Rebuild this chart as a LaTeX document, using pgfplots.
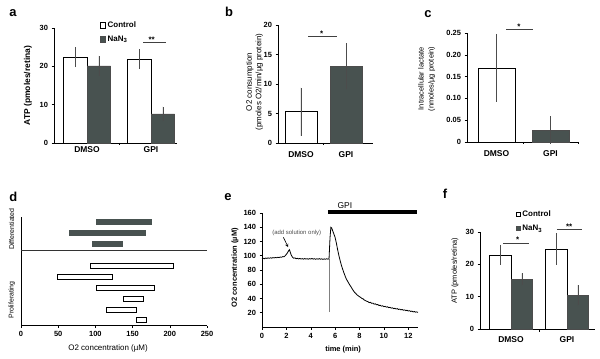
\documentclass[border=0pt]{standalone}
\usepackage{pgfplots}
\pgfplotsset{compat=1.18}
\usepackage{fontspec}
\setmainfont{Liberation Sans}
\definecolor{dk}{RGB}{72,82,80}
\newcommand\tk{\fontsize{7.5}{8}\selectfont\bfseries}
\newcommand\cat{\fontsize{8.5}{9}\selectfont\bfseries}
\newcommand\lgf{\fontsize{8}{9}\selectfont\bfseries}
\newcommand\lbl{\fontsize{8}{9.5}\selectfont}
\newcommand\pl{\fontsize{13}{14}\selectfont\bfseries}
\newcommand\sg{\fontsize{8}{9}\selectfont\bfseries}
\tikzset{sig/.style={line width=0.9bp, black!75}}
\pgfplotsset{
 base/.style={scale only axis, clip=false, axis x line=bottom, axis y line=left,
   axis line style={-, line width=0.5bp, black}, every tick/.style={black, line width=0.5bp},
   tick align=outside, major tick length=2.5bp, ticklabel style={font=\tk},
   /pgf/number format/assume math mode=true, anchor=south west},
 cats/.style={xtick={1,2}, xticklabels={DMSO,GPI}, x tick style={draw=none}, xticklabel style={font=\cat}},
 wbar/.style={fill=white, draw=black, line width=0.6bp},
 dbar/.style={fill=dk, draw=black!70, line width=0.6bp},
 eb/.style={error bars/.cd, y dir=both, y explicit, error mark=none, error bar style={line width=0.5bp, gray!60!black}},
 sqleg/.style={legend cell align=left, legend image code/.code={\draw[##1] (0bp,-2.7bp) rectangle (5.4bp,2.7bp);}},
}
\begin{document}
\begin{tikzpicture}
\path[use as bounding box] (0bp,0bp) rectangle (600bp,359bp);
% ---------------- a
\begin{axis}[base, cats, at={(54bp,216bp)}, width=123bp, height=115bp,
  xmin=0.484, xmax=2.406, ymin=0, ymax=30, ytick={0,10,20,30}, ybar, bar width=23.5bp,
  ylabel={ATP (pmoles/retina)}, ylabel style={font=\fontsize{8.5}{9}\selectfont\bfseries, at={(axis description cs:-0.211,0.5)}, anchor=center},
  xticklabel style={yshift=2bp},
  sqleg, legend style={draw=none, fill=none, at={(axis description cs:0.37,1.075)}, anchor=north west, inner sep=0pt, font=\lgf, row sep=3bp}]
\addplot[wbar, bar shift=-11.75bp, eb] coordinates {(1,22.4) +- (0,2.6) (2,21.9) +- (0,2.5)};
\addlegendentry{Control}
\addplot[dbar, bar shift=11.75bp, eb] coordinates {(1,20.1) +- (0,2.6) (2,7.6) +- (0,1.9)};
\addlegendentry{NaN\textsubscript{3}}
\draw[line width=0.5bp] (axis cs:1.5,0) -- ++(0bp,-2.5bp);
\draw[sig] (axis cs:1.875,26.2) -- (axis cs:2.234,26.2);
\node[font=\sg, anchor=base, inner sep=0pt] at (axis cs:2.01,26.2) {**};
\end{axis}
% ---------------- b
\begin{axis}[base, cats, at={(278bp,216bp)}, width=95bp, height=118bp,
  xmin=0.489, xmax=2.6, ymin=0, ymax=20, ytick={0,5,10,15,20}, ybar, bar width=32bp,
  ylabel={O2 consumption\\(pmoles O2/min/µg protein)},
  ylabel style={font=\lbl, align=center, at={(axis description cs:-0.247,0.517)}, anchor=center},
  xticklabel style={yshift=-3bp}]
\addplot[wbar, bar shift=0bp, eb] coordinates {(1,5.3) +- (0,4.1)};
\addplot[dbar, bar shift=0bp, eb] coordinates {(2,13.0) +- (0,3.9)};
\draw[line width=0.5bp] (axis cs:1.5,0) -- ++(0bp,-2.5bp);
\draw[sig] (axis cs:1.156,18.0) -- (axis cs:1.8,18.0);
\node[font=\sg, anchor=base, inner sep=0pt] at (axis cs:1.46,18.0) {*};
\end{axis}
% ---------------- c
\begin{axis}[base, cats, at={(467bp,217bp)}, width=111bp, height=109bp,
  xmin=0.454, xmax=2.509, ymin=0, ymax=0.25, ytick={0,0.05,0.1,0.15,0.2,0.25},
  yticklabels={0,0.05,0.10,0.15,0.20,0.25}, ybar, bar width=37bp,
  ylabel={Intracellular lactate\\(nmoles/µg protein)},
  ylabel style={font=\fontsize{7.5}{10}\selectfont, align=center, at={(axis description cs:-0.363,0.58)}, anchor=center},
  xticklabel style={yshift=-3bp}]
\addplot[wbar, bar shift=0bp, eb] coordinates {(1,0.170) +- (0,0.078)};
\addplot[dbar, bar shift=0bp, eb] coordinates {(2,0.0275) +- (0,0.032)};
\draw[line width=0.5bp] (axis cs:1.5,0) -- ++(0bp,-2.5bp);
\draw[line width=0.5bp] (axis cs:2.509,0) -- ++(0bp,-2.5bp);
\draw[sig] (axis cs:1.176,0.257) -- (axis cs:1.676,0.257);
\node[font=\sg, anchor=base, inner sep=0pt] at (axis cs:1.417,0.257) {*};
\end{axis}
% ---------------- d
\begin{axis}[base, at={(21bp,33.3bp)}, width=186bp, height=109bp,
  xmin=0, xmax=250, ymin=0, ymax=10, xtick={0,50,100,150,200,250}, ytick=\empty,
  xlabel={O2 concentration (µM)},
  xlabel style={font=\lbl, at={(axis description cs:0.468,-0.211)}, anchor=center}]
\addplot[dbar, draw=dk] coordinates {(100.8,9.27)(175.4,9.27)(175.4,9.73)(100.8,9.73)} -- cycle;
\addplot[dbar, draw=dk] coordinates {(65,8.27)(167.6,8.27)(167.6,8.73)(65,8.73)} -- cycle;
\addplot[dbar, draw=dk] coordinates {(95.4,7.27)(136,7.27)(136,7.73)(95.4,7.73)} -- cycle;
\addplot[wbar] coordinates {(92.7,5.27)(205,5.27)(205,5.73)(92.7,5.73)} -- cycle;
\addplot[wbar] coordinates {(48.8,4.27)(123,4.27)(123,4.73)(48.8,4.73)} -- cycle;
\addplot[wbar] coordinates {(100.8,3.27)(179,3.27)(179,3.73)(100.8,3.73)} -- cycle;
\addplot[wbar] coordinates {(137.5,2.27)(164,2.27)(164,2.73)(137.5,2.73)} -- cycle;
\addplot[wbar] coordinates {(114,1.27)(155,1.27)(155,1.73)(114,1.73)} -- cycle;
\addplot[wbar] coordinates {(155,0.27)(169,0.27)(169,0.73)(155,0.73)} -- cycle;
\draw[line width=0.6bp, black!80] (axis cs:0,6.94) -- (axis cs:250,6.94);
\node[rotate=90, font=\fontsize{7}{8}\selectfont] at (axis description cs:-0.05,0.887) {Differentiated};
\node[rotate=90, font=\fontsize{7}{8}\selectfont] at (axis description cs:-0.05,0.236) {Proliferating};
\end{axis}
% ---------------- e
\begin{axis}[base, at={(262bp,32bp)}, width=156bp, height=114bp,
  xmin=0, xmax=12.8, ymin=0, ymax=160, xtick={0,2,...,12}, ytick={20,40,...,160},
  xlabel={time (min)}, xlabel style={font=\fontsize{7.5}{8}\selectfont\bfseries, at={(axis description cs:0.52,-0.2)}, anchor=center},
  ylabel={O2 concentration (µM)}, ylabel style={font=\fontsize{7.5}{8}\selectfont\bfseries, at={(axis description cs:-0.173,0.52)}, anchor=center}]
\addplot[gray, line width=0.4bp] coordinates {(5.5,21)(5.5,96)};
\addplot[black, line width=0.8bp, mark=none] coordinates {
(0.0,96)(0.1,96.5)(0.2,95.8)(0.3,96.8)(0.4,96.2)(0.5,97)(0.6,96.4)(0.7,97.2)(0.8,96.6)(0.9,97.4)
(1.0,97)(1.1,97.6)(1.2,97.1)(1.3,97.9)(1.4,97.4)(1.5,98.2)(1.6,97.8)(1.7,98.8)(1.8,98.5)(1.9,100)
(2.0,102)(2.1,104.5)(2.2,107.5)(2.25,108.5)(2.3,106)(2.4,101)(2.5,98)(2.6,96.5)(2.7,97)(2.8,95.8)
(2.9,96.4)(3.0,95.5)(3.1,96.2)(3.2,95.4)(3.3,96)(3.4,95.2)(3.5,96.1)(3.6,95.3)(3.7,95.9)(3.8,95.1)
(3.9,96)(4.0,95.4)(4.1,96.2)(4.2,95.3)(4.3,95.9)(4.4,95)(4.5,95.8)(4.6,95.2)(4.7,96)(4.8,95.1)
(4.9,95.7)(5.0,94.9)(5.1,95.6)(5.2,95)(5.3,95.8)(5.4,95.2)(5.5,95.5)(5.58,125)(5.65,140)(5.72,139)
(5.8,135)(5.9,130.5)(6.0,125.5)(6.1,118)(6.2,109)(6.3,101)(6.4,94)(6.5,87.5)(6.6,82)(6.7,77)
(6.8,72.5)(6.9,68)(7.0,65)(7.1,62)(7.2,59)(7.3,56.5)(7.4,53.5)(7.5,51)(7.6,48.5)(7.7,47)
(7.8,45)(7.9,43.8)(8.0,42.5)(8.1,41.5)(8.2,40)(8.3,39.5)(8.4,37.8)(8.5,37)(8.6,36)(8.7,35.5)
(8.8,34.2)(8.9,34.6)(9.0,33.2)(9.1,33.5)(9.2,32.1)(9.3,32.6)(9.4,31.2)(9.5,31.5)(9.6,30.2)(9.7,30.5)
(9.8,29.3)(9.9,29.8)(10.0,28.6)(10.1,29)(10.2,27.9)(10.3,28.4)(10.4,27.2)(10.5,27.6)(10.6,26.5)(10.7,27)
(10.8,25.8)(10.9,26.3)(11.0,25.2)(11.1,25.8)(11.2,24.6)(11.3,25.1)(11.4,24.1)(11.5,24.6)(11.6,23.5)(11.7,24)
(11.8,23)(11.9,23.5)(12.0,22.4)(12.1,22.9)(12.2,21.8)(12.3,22.3)(12.4,21.2)(12.5,21.8)(12.6,20.8)(12.7,21.2)(12.8,20.5)};
\draw[line width=3.5bp] (axis cs:5.4,161.5) -- (axis cs:12.75,161.5);
\node[font=\fontsize{8.5}{9}\selectfont] at (axis cs:6.8,171) {GPI};
\node[font=\fontsize{6}{7}\selectfont, text=black!70] at (axis cs:2.85,132.6) {(add solution only)};
\draw[-stealth, line width=0.6bp] (axis cs:1.75,126) -- (axis cs:2.15,112);
\end{axis}
% ---------------- f
\begin{axis}[base, cats, at={(480bp,30bp)}, width=115bp, height=97bp,
  xmin=0.446, xmax=2.5, ymin=0, ymax=30, ytick={0,10,20,30}, ybar, bar width=21.5bp,
  ylabel={ATP (pmoles/retina)}, ylabel style={font=\fontsize{7.5}{8}\selectfont, at={(axis description cs:-0.217,0.6)}, anchor=center},
  xticklabel style={yshift=-2bp},
  sqleg, legend image code/.code={\draw[#1] (0bp,-2bp) rectangle (4bp,2bp);},
  legend style={draw=none, fill=none, at={(axis description cs:0.31,1.24)}, anchor=north west, inner sep=0pt, font=\lgf, row sep=3bp}]
\addplot[wbar, bar shift=-10.75bp, eb] coordinates {(1,22.9) +- (0,3.1) (2,24.7) +- (0,4.9)};
\addlegendentry{Control}
\addplot[dbar, bar shift=10.75bp, eb] coordinates {(1,15.4) +- (0,1.8) (2,10.5) +- (0,3.1)};
\addlegendentry{NaN\textsubscript{3}}
\draw[line width=0.5bp] (axis cs:1.5,0) -- ++(0bp,-2.5bp);
\draw[sig] (axis cs:0.857,26.6) -- (axis cs:1.321,26.6);
\node[font=\sg, anchor=base, inner sep=0pt] at (axis cs:1.12,26.6) {*};
\draw[sig] (axis cs:1.821,30.9) -- (axis cs:2.268,30.9);
\node[font=\sg, anchor=base, inner sep=0pt] at (axis cs:2.04,30.9) {**};
\end{axis}
% panel letters
\node[font=\pl] at (13bp,346bp) {a};
\node[font=\pl] at (229bp,347bp) {b};
\node[font=\pl] at (428bp,344.8bp) {c};
\node[font=\pl] at (13.3bp,162.3bp) {d};
\node[font=\pl] at (228bp,162bp) {e};
\node[font=\pl] at (445bp,165.3bp) {f};
\end{tikzpicture}
\end{document}
